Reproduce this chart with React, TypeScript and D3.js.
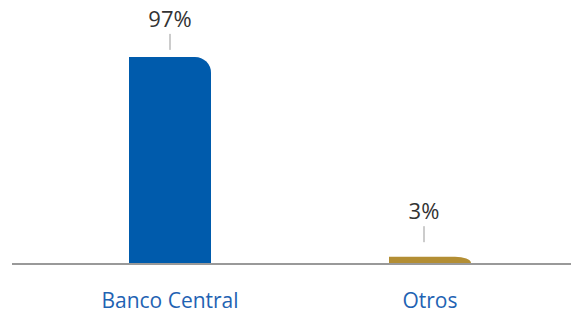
import React from 'react';
import * as d3 from 'd3';

const categories = ['Banco Central', 'Otros'];
const values = [97, 3];
const valueLabels = ['97%', '3%'];
const colors = ['#005bac', '#b38e34'];

const W = 571;
const H = 314;
const baseY = 263;

// bar with a rounded top-right corner (elliptic when the bar is short)
function barPath(x: number, y: number, w: number, h: number, r: number) {
  const rx = Math.min(r, w);
  const ry = Math.min(r, h);
  return `M${x},${y + h}V${y}H${x + w - rx}A${rx},${ry} 0 0 1 ${x + w},${y + ry}V${y + h}Z`;
}

export default function App() {
  const x = d3.scaleBand<string>().domain(categories).range([40, 560]).padding(0);
  const y = d3.scaleLinear().domain([0, 100]).range([baseY, baseY - 212.5]);
  const barW = 82;

  return (
    <svg
      width={W}
      height={H}
      style={{ position: 'absolute', left: 0, top: 0, fontFamily: '"Open Sans", sans-serif' }}
    >
      {categories.map((c, i) => {
        const cx = (x(c) ?? 0) + x.bandwidth() / 2;
        const top = y(values[i]);
        // labels keep some distance above the axis for tiny bars
        const anchor = Math.min(top, y(6.5));
        return (
          <g key={c}>
            <path d={barPath(cx - barW / 2, top, barW, baseY - top, 16)} fill={colors[i]} />
            <line x1={cx - i * 6} x2={cx - i * 6} y1={anchor - 23} y2={anchor - 7} stroke="#999" strokeWidth={1} />
            <text x={cx - i * 6} y={anchor - 30} textAnchor="middle" fontSize={22} fill="#333">
              {valueLabels[i]}
            </text>
            <text x={cx} y={308} textAnchor="middle" fontSize={21} fill="#1f63b3">
              {c}
            </text>
          </g>
        );
      })}
      <line x1={12} x2={W} y1={baseY + 1} y2={baseY + 1} stroke="#999" strokeWidth={2} />
    </svg>
  );
}
